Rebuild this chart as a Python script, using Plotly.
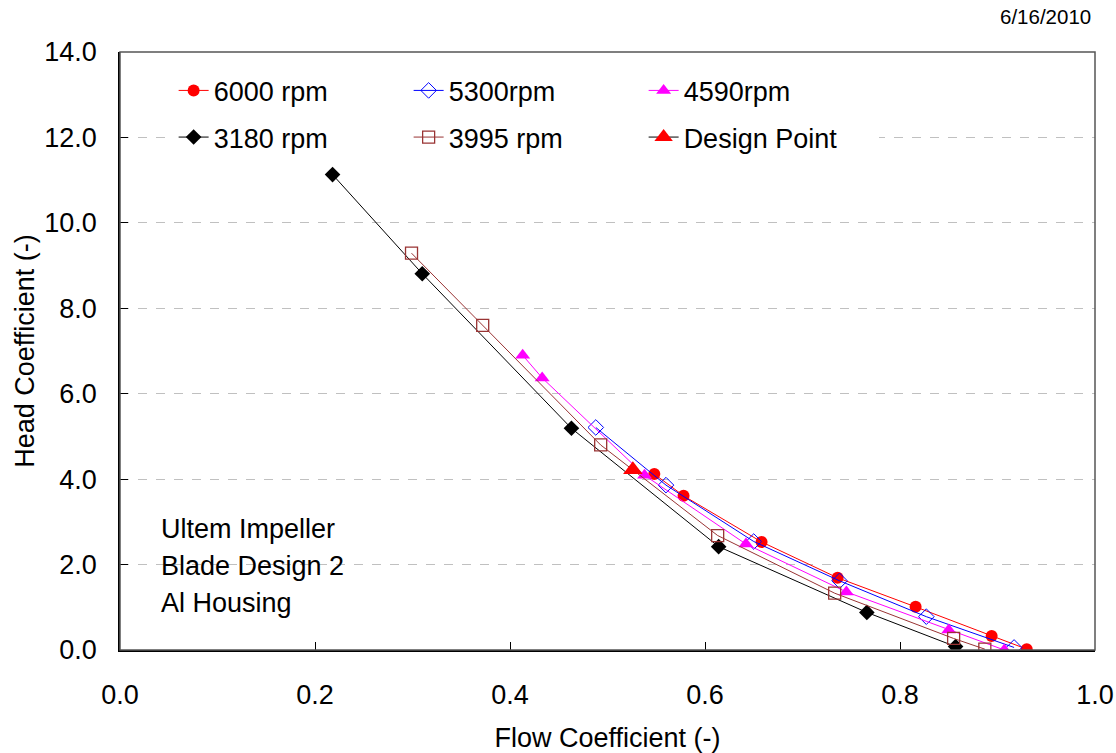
import plotly.graph_objects as go

# ---- data ----
x_6000 = [0.548, 0.578, 0.658, 0.736, 0.816, 0.894, 0.930]
y_6000 = [4.12, 3.61, 2.53, 1.69, 1.01, 0.33, 0.02]

x_5300 = [0.488, 0.560, 0.650, 0.738, 0.827, 0.917]
y_5300 = [5.21, 3.86, 2.54, 1.62, 0.78, 0.06]

x_4590 = [0.413, 0.433, 0.538, 0.642, 0.745, 0.850, 0.907]
y_4590 = [6.90, 6.37, 4.09, 2.48, 1.36, 0.47, 0.0]

x_3180 = [0.218, 0.310, 0.463, 0.614, 0.766, 0.857]
y_3180 = [11.13, 8.81, 5.19, 2.42, 0.88, 0.08]

x_3995 = [0.299, 0.372, 0.493, 0.613, 0.733, 0.855, 0.887]
y_3995 = [9.29, 7.60, 4.80, 2.68, 1.33, 0.27, 0.02]

x_design = [0.526]
y_design = [4.22]

x_ticks = [0.0, 0.2, 0.4, 0.6, 0.8, 1.0]
y_ticks = [0.0, 2.0, 4.0, 6.0, 8.0, 10.0, 12.0, 14.0]

note_lines = ["Ultem Impeller", "Blade Design 2", "Al Housing"]
date_text = "6/16/2010"

FONT = "Liberation Sans, Arial, sans-serif"
FS = 27
BROWN = "#993333"

fig = go.Figure()

fig.add_trace(go.Scatter(x=x_6000, y=y_6000, name="6000 rpm", mode="lines+markers",
                         line=dict(color="#ff0000", width=1),
                         marker=dict(symbol="circle", size=12, color="#ff0000"),
                         legend="legend"))
fig.add_trace(go.Scatter(x=x_5300, y=y_5300, name="5300rpm", mode="lines+markers",
                         line=dict(color="#0000ff", width=1),
                         marker=dict(symbol="diamond-open", size=12, color="#0000ff",
                                     line=dict(width=1)),
                         legend="legend"))
fig.add_trace(go.Scatter(x=x_4590, y=y_4590, name="4590rpm", mode="lines+markers",
                         line=dict(color="#ff00ff", width=1),
                         marker=dict(symbol="triangle-up", size=13, color="#ff00ff"),
                         legend="legend"))
fig.add_trace(go.Scatter(x=x_3180, y=y_3180, name="3180 rpm", mode="lines+markers",
                         line=dict(color="#000000", width=1),
                         marker=dict(symbol="diamond", size=12, color="#000000"),
                         legend="legend2"))
fig.add_trace(go.Scatter(x=x_3995, y=y_3995, name="3995 rpm", mode="lines+markers",
                         line=dict(color=BROWN, width=1),
                         marker=dict(symbol="square-open", size=12, color=BROWN,
                                     line=dict(width=1.3)),
                         legend="legend2"))
fig.add_trace(go.Scatter(x=x_design, y=y_design, name="Design Point", mode="lines+markers",
                         line=dict(color="#000000", width=1),
                         marker=dict(symbol="triangle-up", size=17, color="#ff0000"),
                         legend="legend2"))

for i, t in enumerate(note_lines):
    fig.add_annotation(x=0.04, y=0.202 - i * 0.062, xref="paper", yref="paper",
                       text=t, showarrow=False, xanchor="left", yanchor="middle",
                       font=dict(family=FONT, size=FS, color="black"))

fig.add_annotation(x=1.0, y=1.0, xref="paper", yref="paper", text=date_text,
                   showarrow=False, xanchor="right", yanchor="bottom",
                   yshift=22, xshift=-2,
                   font=dict(family=FONT, size=20.5, color="black"))

# plot frame (top/right grey)
fig.add_shape(type="rect", xref="x domain", yref="y domain", x0=0, x1=1, y0=0, y1=1,
              line=dict(color="#555555", width=1.5), layer="above")

legend_common = dict(orientation="h", xanchor="left", yanchor="middle",
                     bgcolor="white", borderwidth=0,
                     font=dict(family=FONT, size=FS, color="black"),
                     entrywidth=190, entrywidthmode="pixels", itemsizing="trace",
                     tracegroupgap=0)

fig.update_layout(
    width=1116, height=753,
    margin=dict(l=120, r=21, t=52, b=103, autoexpand=False),
    paper_bgcolor="white", plot_bgcolor="white",
    font=dict(family=FONT, size=FS, color="black"),
    showlegend=True,
    legend=dict(x=0.055, y=0.935, **legend_common),
    legend2=dict(x=0.055, y=0.857, **legend_common),
    xaxis=dict(range=[0, 1.0], tickvals=x_ticks, tickformat=".1f",
               ticks="inside", ticklen=8, tickcolor="black", tickwidth=1,
               showline=True, linecolor="black", linewidth=1.5,
               showgrid=False, zeroline=False, automargin=False,
               tickfont=dict(family=FONT, size=FS, color="black"),
               ticklabelstandoff=20,
               title=dict(text="Flow Coefficient (-)", standoff=36,
                          font=dict(family=FONT, size=FS, color="black"))),
    yaxis=dict(range=[0, 14.0], tickvals=y_ticks, tickformat=".1f",
               ticks="inside", ticklen=8, tickcolor="black", tickwidth=1,
               showline=True, linecolor="black", linewidth=1.5,
               showgrid=True, gridcolor="#c0c0c0", griddash="dash", gridwidth=1,
               zeroline=False, automargin=False,
               tickfont=dict(family=FONT, size=FS, color="black"),
               ticklabelstandoff=16,
               title=dict(text="Head Coefficient (-)", standoff=2,
                          font=dict(family=FONT, size=FS, color="black"))),
)

fig.write_html("out.html",
               config={"displayModeBar": False},
               post_script="document.body.style.margin='0';document.body.style.overflow='hidden';")
